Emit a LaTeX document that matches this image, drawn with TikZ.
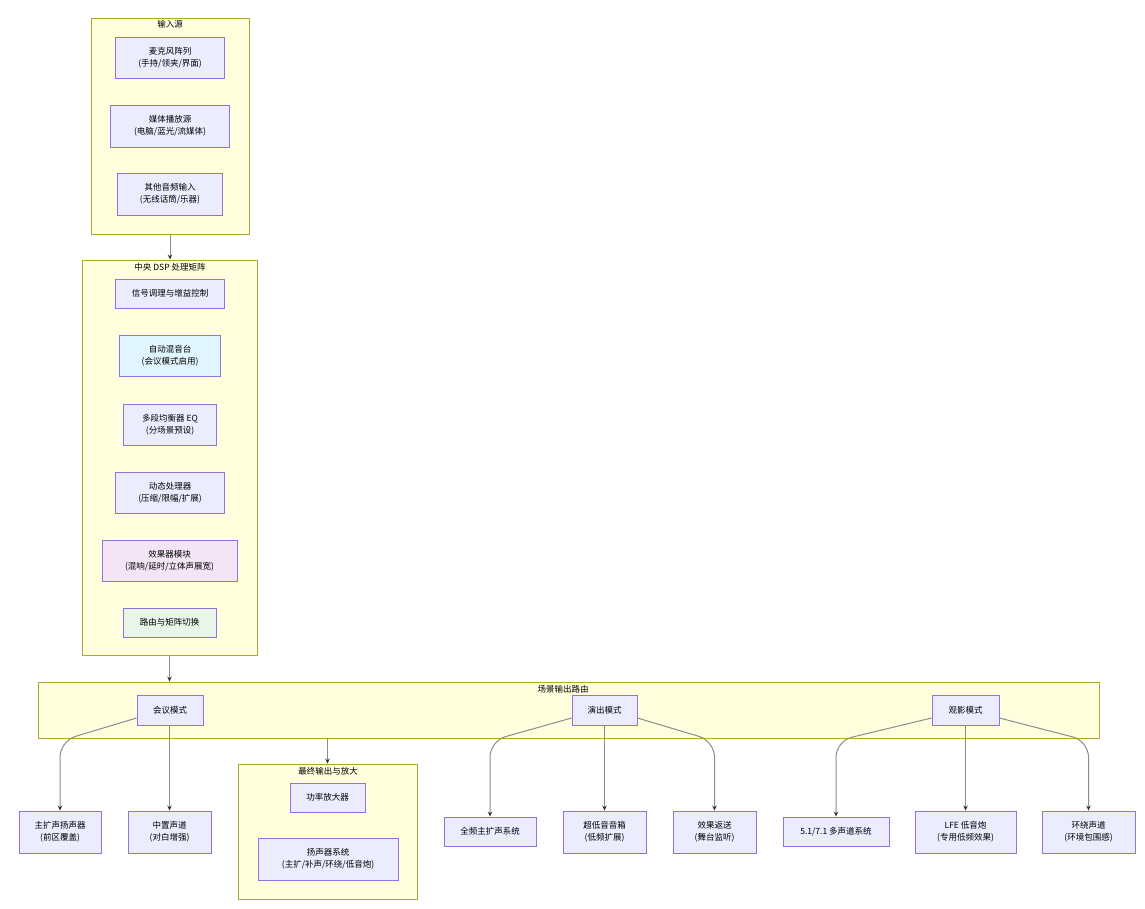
\documentclass[tikz,border=0pt]{standalone}
\usepackage{fontspec}
\setmainfont{Noto Sans CJK SC}
\usetikzlibrary{arrows.meta,calc}
\definecolor{nodefill}{HTML}{ECECFF}
\definecolor{nodedraw}{HTML}{9370DB}
\definecolor{clfill}{HTML}{FFFFDE}
\definecolor{cldraw}{HTML}{AAAA33}
\definecolor{bluefill}{HTML}{E1F5FE}
\definecolor{pinkfill}{HTML}{F3E5F5}
\definecolor{greenfill}{HTML}{E8F5E9}
\definecolor{edgecol}{HTML}{8C8C8C}
\definecolor{tipcol}{HTML}{333333}
\begin{document}
\begin{tikzpicture}[x=1pt,y=-1pt,
 box/.style={draw=nodedraw, fill=nodefill, line width=0.9pt, align=center, inner sep=0pt, font=\fontsize{8.5}{12}\selectfont},
 cluster/.style={draw=cldraw, fill=clfill, line width=0.9pt, inner sep=0pt},
 ctitle/.style={font=\fontsize{8.5}{10}\selectfont, inner sep=0pt},
 edge/.style={draw=edgecol, line width=1pt, rounded corners=16pt, -{Stealth[length=5pt,width=4.5pt,color=tipcol]}}]
\useasboundingbox[fill=white] (0,0) rectangle (1145,908);
% clusters
\node[cluster, minimum width=158, minimum height=216] (inp) at (170,126) {};
\node[ctitle] (inpt) at (170,24) {输入源};
\node[cluster, minimum width=175, minimum height=395] (dsp) at (169.5,457.5) {};
\node[ctitle] (dspt) at (170,267) {中央 DSP 处理矩阵};
\node[cluster, minimum width=1061, minimum height=56] (scene) at (568.5,710) {};
\node[ctitle] (scenet) at (563,689) {场景输出路由};
\node[cluster, minimum width=179, minimum height=135] (final) at (327.5,831.5) {};
\node[ctitle] (finalt) at (328,771) {最终输出与放大};
% input nodes
\node[box, minimum width=109, minimum height=41] (mic) at (170,57.5) {麦克风阵列\\(手持/领夹/界面)};
\node[box, minimum width=119, minimum height=42] (media) at (170,126) {媒体播放源\\(电脑/蓝光/流媒体)};
\node[box, minimum width=105, minimum height=42] (other) at (170,194) {其他音频输入\\(无线话筒/乐器)};
% dsp nodes
\node[box, minimum width=109, minimum height=29] (cond) at (170,293.5) {信号调理与增益控制};
\node[box, fill=bluefill, minimum width=101, minimum height=41] (amix) at (170,355.5) {自动混音台\\(会议模式启用)};
\node[box, minimum width=93, minimum height=41] (eq) at (170,424.5) {多段均衡器 EQ\\(分场景预设)};
\node[box, minimum width=109, minimum height=41] (dyn) at (170,492.5) {动态处理器\\(压缩/限幅/扩展)};
\node[box, fill=pinkfill, minimum width=135, minimum height=41] (fx) at (169.5,560.5) {效果器模块\\(混响/延时/立体声展宽)};
\node[box, fill=greenfill, minimum width=93, minimum height=29] (route) at (169.5,622.5) {路由与矩阵切换};
% mode nodes
\node[box, minimum width=66, minimum height=30] (meet) at (170,710) {会议模式};
\node[box, minimum width=65, minimum height=30] (show) at (604.5,710) {演出模式};
\node[box, minimum width=67, minimum height=30] (movie) at (965.5,710) {观影模式};
% final nodes
\node[box, minimum width=75, minimum height=29] (amp) at (327.5,797.5) {功率放大器};
\node[box, minimum width=140, minimum height=42] (spksys) at (328,859) {扬声器系统\\(主扩/补声/环绕/低音炮)};
% leaf nodes
\node[box, minimum width=82, minimum height=42] (mainspk) at (60,832) {主扩声扬声器\\(前区覆盖)};
\node[box, minimum width=83, minimum height=42] (center) at (169.5,832) {中置声道\\(对白增强)};
\node[box, minimum width=92, minimum height=29] (full) at (490,831.5) {全频主扩声系统};
\node[box, minimum width=83, minimum height=42] (sub) at (604.5,832) {超低音音箱\\(低频扩展)};
\node[box, minimum width=83, minimum height=42] (ret) at (714.5,832) {效果返送\\(舞台监听)};
\node[box, minimum width=106, minimum height=29] (multi) at (836,831.5) {5.1/7.1 多声道系统};
\node[box, minimum width=101, minimum height=42] (lfe) at (965.5,832) {LFE 低音炮\\(专用低频效果)};
\node[box, minimum width=93, minimum height=42] (surr) at (1088.5,832) {环绕声道\\(环境包围感)};
% edges
\coordinate (lvl) at (0,741);
\draw[edge] (inp.south) -- (inp.south |- dsp.north);
\draw[edge] (dsp.south) -- (dsp.south |- scene.north);
\draw[edge] (final.north |- scene.south) -- (final.north);
\draw[edge] ($(meet.west)+(0,8)$) -- (mainspk.north |- lvl) -- (mainspk.north);
\draw[edge] (meet.south -| center.north) -- (center.north);
\draw[edge] ($(show.west)+(0,8)$) -- (full.north |- lvl) -- (full.north);
\draw[edge] (show.south) -- (sub.north);
\draw[edge] ($(show.east)+(0,8)$) -- (ret.north |- lvl) -- (ret.north);
\draw[edge] ($(movie.west)+(0,8)$) -- (multi.north |- lvl) -- (multi.north);
\draw[edge] (movie.south) -- (lfe.north);
\draw[edge] ($(movie.east)+(0,8)$) -- (surr.north |- lvl) -- (surr.north);
\end{tikzpicture}
\end{document}
